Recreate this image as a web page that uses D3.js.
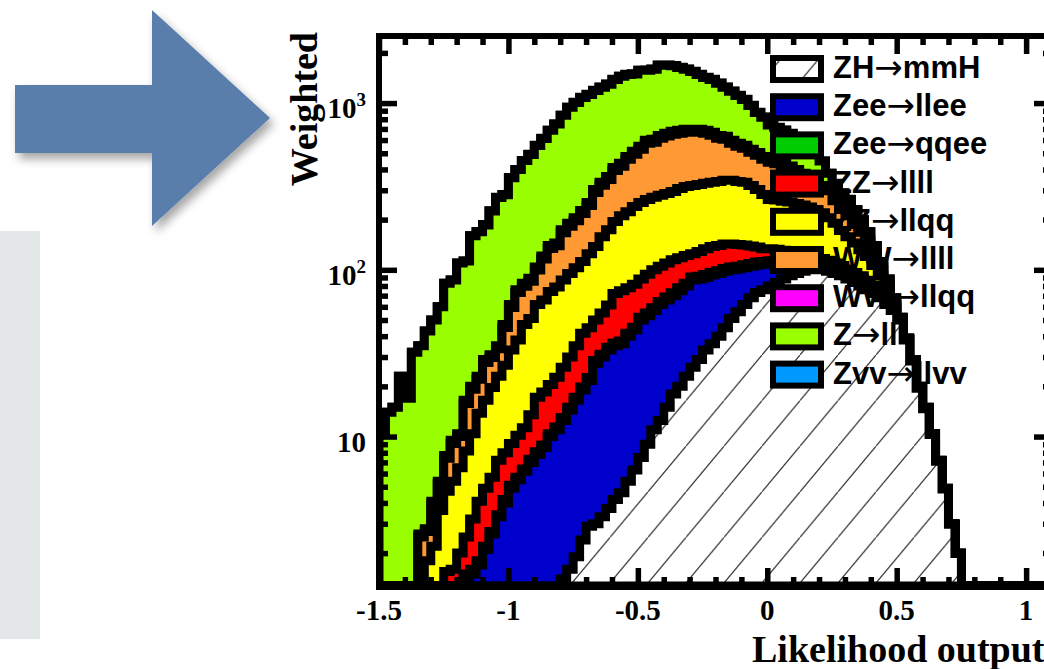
<!DOCTYPE html>
<html>
<head>
<meta charset="utf-8">
<title>Likelihood output</title>
<script src="https://cdn.jsdelivr.net/npm/d3@7/dist/d3.min.js"></script>
<style>
  html, body { margin: 0; padding: 0; background: #ffffff; }
  svg { display: block; }
</style>
</head>
<body>
<svg id="chart" width="1044" height="669"></svg>
<script>
// ---- Histogram binning: 0.025-wide bins from -1.5 up to the end of the x axis ----
const binLow = -1.5;
const binWidth = 0.025;
const nBins = 104;

// ---- Series (stack order, bottom first) ----
const seriesNames  = ["ZH\u2192mmH", "Zee\u2192llee", "Zee\u2192qqee", "ZZ\u2192llll", "ZZ\u2192llqq",
                      "WW\u2192llll", "WW\u2192llqq", "Z\u2192ll", "Zvv\u2192llvv"];
const seriesColors = ["#ffffff", "#0000cc", "#00cc00", "#ff0000", "#ffff00",
                      "#ff9933", "#ff00ff", "#99ff00", "#0099ff"];

// weighted events per bin (bins 0..89; later bins are empty)
const zhMumuH = [0,0,0,0,0,0,0,0,0,0, 0,0,0,0,0,0,0,0,0,0,
  0.2,0.3,0.4,0.5,0.6,0.8,0.9,1.1,1.4,1.6, 1.9,2.4,2.9,3.0,3.3,3.7,4.2,4.6,5.4,6.3,
  7.5,9.0,11,12.5,15,18,20,23,26,29, 33,36,40,45,51,56,62,68,73,76,
  80,84,88,92,95,98,100,101,100,98, 95,92,88,84,80,76,72,68,62,57,
  50,38,28.4,19.5,14.7,10.3,7.1,4.85,2.98,1.99];

const zeeLlee = [0,0,0,0,0,0.1,0.2,0.3,0.4,0.5, 0.7,0.8,1.0,1.4,1.5,1.7,2.1,2.6,3.3,4.0,
  4.7,5.2,5.8,6.5,7.2,7.8,9.1,9.9,11.1,12.8, 14.6,16.6,18.8,24.5,26.7,29.3,30.8,31.4,34.6,37.2,
  42.5,44,46,49.5,51,52,55,57,61,59, 57,57,55,53,49,45,41,37,34,32,
  29,26,22,18,15,12,9,7,6,5, 5,5,5,5,5,4,3,2,1.5,1,
  0.3,0.2,0.1,0.1,0.1,0.05,0,0,0,0];

const zeeQqee = [0,0,0,0,0,0,0,0,0,0, 0,0,0,0.1,0.1,0.1,0.1,0.1,0.1,0.2,
  0.2,0.2,0.2,0.3,0.3,0.3,0.4,0.4,0.5,0.6, 0.7,0.8,0.9,1.1,1.2,1.3,1.4,1.4,1.6,1.7,
  2.0,2.1,2.3,2.5,2.6,2.8,3.0,3.2,3.5,3.5, 3.6,3.7,3.8,3.9,4.0,4.0,4.1,4.2,4.3,4.3,
  4.4,4.4,4.4,4.4,4.4,4.4,4.4,4.3,4.2,4.1, 4.0,3.9,3.7,3.5,3.4,3.2,3.0,2.8,2.5,2.0,
  0.2,0.1,0.1,0,0,0,0,0,0,0];

const zzLlll = [0,0,0,0.1,0.2,0.2,0.3,0.4,0.6,0.7, 0.85,0.8,1.0,1.0,1.6,2.3,2.7,3.0,3.8,3.8,
  4.0,4.5,4.9,6.2,9.1,9.6,10.1,11.3,13.0,15.0, 17.8,21.9,22.4,21.4,23.8,27.2,35.6,37.6,36.4,36.8,
  36,38.9,40.7,40.5,41.4,42.2,40,38.8,34.5,37.5, 40.4,41.3,41.2,41.1,39,37,33.9,29.8,25.7,21.7,
  20.6,18.6,16.6,13.6,11.6,9.6,8.6,7.7,6.8,6.9, 6,5.1,4.3,4.0,3.6,3.3,3.0,2.2,1.5,1.0,
  0.5,0.2,0.1,0.1,0.05,0,0,0,0,0];

const zzLlqq = [0,0.2,0.3,0.3,0.3,0.4,0.6,1.1,1.2,2.4, 3.15,3.8,4.5,5.7,7.2,9.7,11.6,14.0,15.8,18.8,
  23.9,27.8,35.7,37.5,44.8,47.5,53.5,56.3,61,65, 68,70.3,80,88,103,112.5,123,136,145,158,
  165,170,172,175,177,180,189,194,195,196, 196,197,199,202,202,197,194,181,166,149,
  130,129,127,127,124,121,116,110,103,91, 80,66,57,48.5,40,33.5,25,17,9.5,1.0,
  0.3,0.2,0.1,0.1,0.05,0,0.05,0,0,0];

const wwLlll = [0,0.1,0.2,0.4,0.5,0.5,1.4,0.9,1.7,1.6, 2.7,3.7,3.5,7.6,8.8,8.3,11.3,10.1,10.6,18.3,
  26.5,35,32.7,34.4,37.8,50.2,60.4,60.2,80,87.4, 93.8,105.9,117.9,152.9,163.6,174.5,199.6,206.6,236.8,253.4,
  275,311,310.7,334.4,346.6,354.9,352.5,353.1,349.1,344.1, 329.5,306.3,275.4,261.7,230,212,200.7,186.9,182.8,176.8,
  177.6,170,159.6,148.2,134,119.8,107.6,96.4,87.2,92.6, 69.2,58.4,53.2,42.2,36,25.9,16.9,7.8,2.7,1.4,
  0.2,0.1,0.1,0.1,0.05,0,0,0,0,0];

const wwLlqq = [0,0,0,0,0,0,0.1,0.1,0.2,0.2, 0.3,0.4,0.4,0.7,0.8,0.9,1.2,1.2,1.4,1.9,
  2.5,3.0,3.3,3.6,4.2,4.8,5.6,5.8,7,7.6, 8.2,9.1,10.1,12.1,13.4,14.5,16.4,17.4,19.2,20.6,
  22,24,24.3,25.6,26.4,27.1,27.5,27.9,27.9,27.9, 27.5,26.7,25.6,25.3,24,23,22.3,21.1,20.2,19.2,
  18.4,18,17.4,16.8,16,15.2,14.4,13.6,12.8,12.4, 10.8,9.6,8.8,7.8,7,6.1,5.1,4.2,3.3,1.6,
  0.1,0.1,0,0,0,0,0,0,0,0];

const zLl = [10.4,13.7,14.5,22.2,16,30.8,32.4,40.2,45.9,54.6, 75.3,77.5,99.6,96.5,140,146,157,194,236,235,
  295,323,369,403,452,493,546,603,670,753, 804,854,873,888,911,933,975,1011,1007,982,
  1021,977,989,1046,1026,999,949,899,849,789, 739,718,676,614,577,537,493,440,372,344,
  278,263,253,238,228,208,188,158,129,69, 59,49,44,34,24,17,12,8,5,3,
  0.4,0.1,0.1,0.1,0.05,0.05,0.05,0.05,0.02,0.01];

const zvvLlvv = [0,0,0,0,0,0,0,0,0,0, 0,0,0,0,0,1,1,1,1,1,
  1,1,1,1,2,2,2,2,2,2, 4,4,4,4,4,4,4,4,4,4,
  4,4,4,4,4,4,4,4,4,4, 4,4,4,4,4,4,4,2,2,2,
  2,2,2,2,2,2,2,2,1,1, 1,1,1,1,1,1,0,0,0,0,
  0,0,0,0,0,0,0,0,0,0];

const seriesValues = [zhMumuH, zeeLlee, zeeQqee, zzLlll, zzLlqq, wwLlll, wwLlqq, zLl, zvvLlvv];

// ---- Axis ticks and labels ----
const xMajorTicks = [-1.5, -1, -0.5, 0, 0.5, 1];
const xTickLabels = ["-1.5", "-1", "-0.5", "0", "0.5", "1"];
const yMajorTicks = [10, 100, 1000];
const yTickBase   = ["10", "10", "10"];
const yTickExp    = ["", "2", "3"];
const xTitle = "Likelihood output";
const yTitle = "Weighted";

// ---- Page ----
const svg = d3.select("#chart");
const defs = svg.append("defs");

const shadow = defs.append("filter").attr("id", "soft-shadow")
  .attr("x", "-20%").attr("y", "-20%").attr("width", "150%").attr("height", "150%");
shadow.append("feDropShadow").attr("dx", 4).attr("dy", 6).attr("stdDeviation", 5)
  .attr("flood-color", "#000").attr("flood-opacity", 0.35);

const lineShadow = defs.append("filter").attr("id", "line-shadow")
  .attr("x", "-5%").attr("y", "-300%").attr("width", "110%").attr("height", "700%");
lineShadow.append("feDropShadow").attr("dx", 0).attr("dy", 2).attr("stdDeviation", 1.5)
  .attr("flood-color", "#000").attr("flood-opacity", 0.25);

// side panel, rule and arrow of the slide
svg.append("rect").attr("x", 0).attr("y", 231).attr("width", 40).attr("height", 408)
  .attr("fill", "#e3e7e8");
svg.append("line").attr("x1", 0).attr("x2", 260).attr("y1", 611).attr("y2", 611)
  .attr("stroke", "#111").attr("stroke-width", 1.6).attr("filter", "url(#line-shadow)");
svg.append("path")
  .attr("d", d3.line()([[15, 85], [152, 85], [152, 10], [270, 118], [152, 226], [152, 153], [15, 153]]) + "Z")
  .attr("fill", "#5a7eab").attr("filter", "url(#soft-shadow)");

// ---- Plot frame and scales ----
const plot = { left: 379, right: 1052, top: 36, bottom: 586 };
const x = d3.scaleLinear().domain([-1.5, 1.1]).range([plot.left, plot.right]);
const y = d3.scaleLog().domain([1.27, 2525]).range([plot.bottom, plot.top]).clamp(true);

defs.append("clipPath").attr("id", "plot-clip")
  .append("rect").attr("x", plot.left).attr("y", plot.top)
  .attr("width", plot.right - plot.left).attr("height", plot.bottom - plot.top);

// hatch used for the signal
const hatch = defs.append("pattern").attr("id", "hatch")
  .attr("patternUnits", "userSpaceOnUse")
  .attr("x", 610).attr("y", 583).attr("width", 38).attr("height", 45.6);
hatch.append("rect").attr("width", 38).attr("height", 45.6).attr("fill", "#ffffff");
hatch.append("line").attr("x1", -1).attr("y1", 46.8).attr("x2", 39).attr("y2", -1.2)
  .attr("stroke", "#333").attr("stroke-width", 1.2);

// ---- Stacked histogram ----
const keys = seriesNames.map((d, i) => "s" + i);
const rows = d3.range(nBins).map(k => {
  const r = { bin: k };
  seriesValues.forEach((arr, i) => { r["s" + i] = arr[k] || 0; });
  return r;
});
const stacked = d3.stack().keys(keys)(rows);

function levelY(v) { return v > 0 ? y(v) : plot.bottom; }

function stepPath(layer) {
  const pts = [[x(binLow), plot.bottom]];
  layer.forEach((d, k) => {
    const yy = levelY(d[1]);
    pts.push([x(binLow + k * binWidth), yy], [x(binLow + (k + 1) * binWidth), yy]);
  });
  pts.push([x(binLow + nBins * binWidth), plot.bottom]);
  return d3.line()(pts) + "Z";
}

const histG = svg.append("g").attr("clip-path", "url(#plot-clip)");
// highest cumulative level first, each lower level painted over it
for (let i = stacked.length - 1; i >= 0; i--) {
  const d = stepPath(stacked[i]);
  histG.append("path").attr("d", d)
    .attr("fill", i === 0 ? "url(#hatch)" : seriesColors[i])
    .attr("stroke", "#000").attr("stroke-width", 9)
    .attr("stroke-linejoin", "miter");
}

// ---- Frame ----
const frame = svg.append("g");
frame.append("path")
  .attr("d", `M${plot.left},${plot.bottom}V${plot.top}H${plot.right}V${plot.bottom}`)
  .attr("fill", "none").attr("stroke", "#000").attr("stroke-width", 6);
frame.append("line").attr("x1", plot.left - 3).attr("x2", plot.right + 3)
  .attr("y1", plot.bottom).attr("y2", plot.bottom)
  .attr("stroke", "#000").attr("stroke-width", 8);

// ---- Ticks (inside the frame, on all four sides) ----
const xMinorTicks = d3.range(-14, 11).map(i => i / 10).filter(v => !xMajorTicks.some(m => Math.abs(m - v) < 1e-9));
const yMinorTicks = [];
[1, 10, 100, 1000].forEach(dec => { for (let m = 2; m <= 9; m++) { const v = m * dec; if (v >= 1.27 && v <= 2525) yMinorTicks.push(v); } });

function styleTicks(g) {
  g.select(".domain").remove();
  g.selectAll(".tick line").attr("stroke", "#000").attr("stroke-width", 5.5);
  g.selectAll(".tick text").remove();
}
const major = 18, minor = 9;
svg.append("g").attr("transform", `translate(0,${plot.bottom})`)
  .call(d3.axisBottom(x).tickValues(xMajorTicks).tickSizeInner(-major).tickSizeOuter(0)).call(styleTicks);
svg.append("g").attr("transform", `translate(0,${plot.bottom})`)
  .call(d3.axisBottom(x).tickValues(xMinorTicks).tickSizeInner(-minor).tickSizeOuter(0)).call(styleTicks);
svg.append("g").attr("transform", `translate(0,${plot.top})`)
  .call(d3.axisTop(x).tickValues(xMajorTicks).tickSizeInner(-major).tickSizeOuter(0)).call(styleTicks);
svg.append("g").attr("transform", `translate(0,${plot.top})`)
  .call(d3.axisTop(x).tickValues(xMinorTicks).tickSizeInner(-minor).tickSizeOuter(0)).call(styleTicks);
svg.append("g").attr("transform", `translate(${plot.left},0)`)
  .call(d3.axisLeft(y).tickValues(yMajorTicks).tickSizeInner(-major).tickSizeOuter(0)).call(styleTicks);
svg.append("g").attr("transform", `translate(${plot.left},0)`)
  .call(d3.axisLeft(y).tickValues(yMinorTicks).tickSizeInner(-minor).tickSizeOuter(0)).call(styleTicks);
svg.append("g").attr("transform", `translate(${plot.right},0)`)
  .call(d3.axisRight(y).tickValues(yMajorTicks).tickSizeInner(-major).tickSizeOuter(0)).call(styleTicks);
svg.append("g").attr("transform", `translate(${plot.right},0)`)
  .call(d3.axisRight(y).tickValues(yMinorTicks).tickSizeInner(-minor).tickSizeOuter(0)).call(styleTicks);

// ---- Tick labels and titles ----
const serif = "'Liberation Serif', 'Times New Roman', Times, serif";
const sans  = "'Liberation Sans', Arial, Helvetica, sans-serif";

svg.append("g").selectAll("text").data(xMajorTicks).join("text")
  .attr("x", d => x(d)).attr("y", 620)
  .attr("text-anchor", "middle")
  .attr("font-family", serif).attr("font-weight", "bold").attr("font-size", 29)
  .text((d, i) => xTickLabels[i]);

const yLab = svg.append("g").selectAll("text").data(yMajorTicks).join("text")
  .attr("x", 366).attr("y", d => y(d) + 15)
  .attr("text-anchor", "end")
  .attr("font-family", serif).attr("font-weight", "bold").attr("font-size", 29);
yLab.append("tspan").text((d, i) => yTickBase[i]);
yLab.filter((d, i) => yTickExp[i] !== "").append("tspan")
  .attr("dy", -12).attr("font-size", 19).text(d => yTickExp[yMajorTicks.indexOf(d)]);

svg.append("text").attr("x", 752).attr("y", 662)
  .attr("font-family", serif).attr("font-weight", "bold").attr("font-size", 38)
  .text(xTitle);

svg.append("text").attr("transform", "translate(317,32) rotate(-90)")
  .attr("text-anchor", "end")
  .attr("font-family", serif).attr("font-weight", "bold").attr("font-size", 38)
  .text(yTitle);

// ---- Legend (transparent, drawn over the histogram) ----
const legend = svg.append("g");
seriesNames.forEach((name, i) => {
  const cy = 69 + 38.2 * i;
  legend.append("rect").attr("x", 773).attr("y", cy - 11).attr("width", 48).attr("height", 22)
    .attr("fill", i === 0 ? "url(#hatch)" : seriesColors[i])
    .attr("stroke", "#000").attr("stroke-width", 6);
  const parts = name.split("\u2192");
  const t = legend.append("text").attr("x", 833).attr("y", cy + 9)
    .attr("font-family", sans).attr("font-weight", "bold").attr("font-size", 31)
    .attr("fill", "#000");
  t.append("tspan").text(parts[0]);
  t.append("tspan").attr("font-family", "'DejaVu Sans', sans-serif").attr("font-weight", "normal")
    .attr("font-size", 34).attr("dy", 1).text("\u2192");
  t.append("tspan").attr("dy", -1).text(parts[1]);
});
</script>
</body>
</html>
